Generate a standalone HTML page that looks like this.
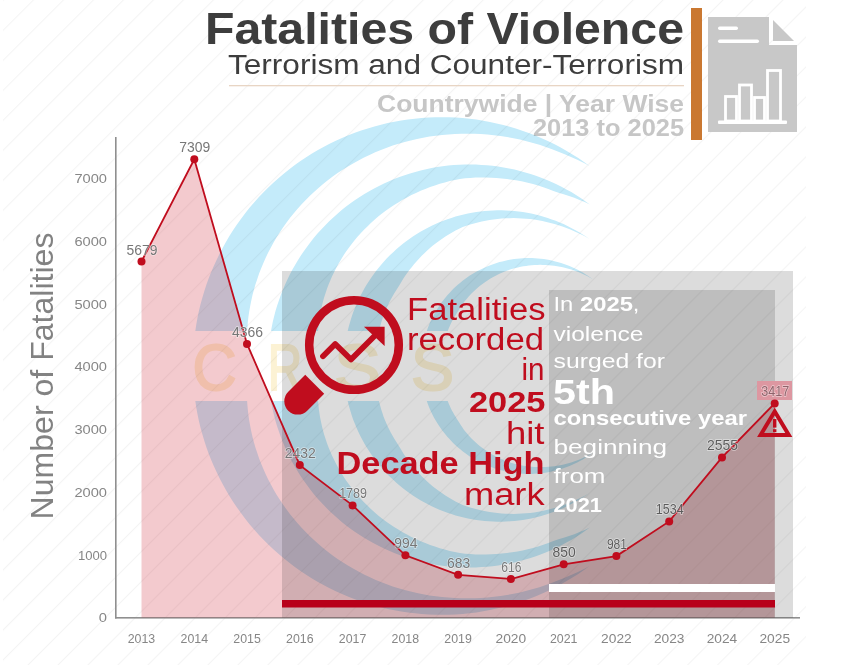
<!DOCTYPE html><html><head><meta charset="utf-8"><style>html,body{margin:0;padding:0;background:#fff;overflow:hidden}svg{display:block}text{font-family:"Liberation Sans",sans-serif}</style></head><body>
<svg width="858" height="665" viewBox="0 0 858 665">
<defs>
<pattern id="diag" patternUnits="userSpaceOnUse" width="21.2" height="21.2" patternTransform="translate(2.7,0) rotate(45)"><rect x="0" y="0" width="1" height="21.2" fill="#000" fill-opacity="0.045"/></pattern>
<clipPath id="cw"><rect x="0" y="0" width="858" height="331"/><rect x="0" y="401" width="858" height="264"/></clipPath>
</defs>
<rect width="858" height="665" fill="#fff"/>
<rect x="3" y="0" width="803" height="665" fill="url(#diag)"/>
<text x="684" y="43.8" font-size="43.5" font-weight="bold" fill="#3d3d3d" text-anchor="end" textLength="479" lengthAdjust="spacingAndGlyphs" >Fatalities of Violence</text>
<text x="684" y="74" font-size="27" font-weight="normal" fill="#3d3d3d" text-anchor="end" textLength="456" lengthAdjust="spacingAndGlyphs" >Terrorism and Counter-Terrorism</text>
<rect x="229" y="85" width="455" height="1.3" fill="#e8d5c4"/>
<text x="684" y="112" font-size="24.5" font-weight="bold" fill="#c6c6c6" text-anchor="end" textLength="307" lengthAdjust="spacingAndGlyphs" >Countrywide | Year Wise</text>
<text x="684" y="135.5" font-size="24.5" font-weight="bold" fill="#c6c6c6" text-anchor="end" textLength="151" lengthAdjust="spacingAndGlyphs" >2013 to 2025</text>
<rect x="691" y="8" width="11" height="132" fill="#ca7831"/>
<path d="M708 17 H769 V45 H797 V132 H708 Z" fill="#c8c8c8"/>
<path d="M773 20 L794 41 H773 Z" fill="#c8c8c8"/>
<rect x="718" y="26.5" width="20" height="3.5" rx="1.7" fill="#fff"/>
<rect x="718" y="39.5" width="41" height="3.5" rx="1.7" fill="#fff"/>
<rect x="718" y="120.5" width="69" height="3.5" rx="1" fill="#fff"/>
<rect x="725.5" y="96.5" width="11" height="24.5" fill="none" stroke="#fff" stroke-width="2.8"/>
<rect x="739.5" y="85.0" width="12" height="36.0" fill="none" stroke="#fff" stroke-width="2.8"/>
<rect x="754.5" y="97.5" width="10" height="23.5" fill="none" stroke="#fff" stroke-width="2.8"/>
<rect x="767.5" y="70.5" width="13" height="50.5" fill="none" stroke="#fff" stroke-width="2.8"/>
<rect x="115" y="137" width="1.6" height="481.5" fill="#8f8f8f"/>
<rect x="115" y="617" width="685" height="1.6" fill="#8f8f8f"/>
<text x="107" y="622.2" font-size="13" font-weight="normal" fill="#868686" text-anchor="end" textLength="8.2" lengthAdjust="spacingAndGlyphs" >0</text>
<text x="107" y="559.5" font-size="13" font-weight="normal" fill="#868686" text-anchor="end" textLength="29.1" lengthAdjust="spacingAndGlyphs" >1000</text>
<text x="107" y="496.80000000000007" font-size="13" font-weight="normal" fill="#868686" text-anchor="end" textLength="32.6" lengthAdjust="spacingAndGlyphs" >2000</text>
<text x="107" y="434.1" font-size="13" font-weight="normal" fill="#868686" text-anchor="end" textLength="32.6" lengthAdjust="spacingAndGlyphs" >3000</text>
<text x="107" y="371.40000000000003" font-size="13" font-weight="normal" fill="#868686" text-anchor="end" textLength="32.6" lengthAdjust="spacingAndGlyphs" >4000</text>
<text x="107" y="308.7" font-size="13" font-weight="normal" fill="#868686" text-anchor="end" textLength="32.6" lengthAdjust="spacingAndGlyphs" >5000</text>
<text x="107" y="245.99999999999997" font-size="13" font-weight="normal" fill="#868686" text-anchor="end" textLength="32.6" lengthAdjust="spacingAndGlyphs" >6000</text>
<text x="107" y="183.29999999999998" font-size="13" font-weight="normal" fill="#868686" text-anchor="end" textLength="32.6" lengthAdjust="spacingAndGlyphs" >7000</text>
<text x="141.5" y="642.7" font-size="13.5" font-weight="normal" fill="#868686" text-anchor="middle" textLength="27.5" lengthAdjust="spacingAndGlyphs" >2013</text>
<text x="194.27" y="642.7" font-size="13.5" font-weight="normal" fill="#868686" text-anchor="middle" textLength="27.5" lengthAdjust="spacingAndGlyphs" >2014</text>
<text x="247.04000000000002" y="642.7" font-size="13.5" font-weight="normal" fill="#868686" text-anchor="middle" textLength="27.5" lengthAdjust="spacingAndGlyphs" >2015</text>
<text x="299.81" y="642.7" font-size="13.5" font-weight="normal" fill="#868686" text-anchor="middle" textLength="27.5" lengthAdjust="spacingAndGlyphs" >2016</text>
<text x="352.58000000000004" y="642.7" font-size="13.5" font-weight="normal" fill="#868686" text-anchor="middle" textLength="27.5" lengthAdjust="spacingAndGlyphs" >2017</text>
<text x="405.35" y="642.7" font-size="13.5" font-weight="normal" fill="#868686" text-anchor="middle" textLength="27.5" lengthAdjust="spacingAndGlyphs" >2018</text>
<text x="458.12" y="642.7" font-size="13.5" font-weight="normal" fill="#868686" text-anchor="middle" textLength="27.5" lengthAdjust="spacingAndGlyphs" >2019</text>
<text x="510.89000000000004" y="642.7" font-size="13.5" font-weight="normal" fill="#868686" text-anchor="middle" textLength="30.6" lengthAdjust="spacingAndGlyphs" >2020</text>
<text x="563.6600000000001" y="642.7" font-size="13.5" font-weight="normal" fill="#868686" text-anchor="middle" textLength="27.5" lengthAdjust="spacingAndGlyphs" >2021</text>
<text x="616.4300000000001" y="642.7" font-size="13.5" font-weight="normal" fill="#868686" text-anchor="middle" textLength="30.6" lengthAdjust="spacingAndGlyphs" >2022</text>
<text x="669.2" y="642.7" font-size="13.5" font-weight="normal" fill="#868686" text-anchor="middle" textLength="30.6" lengthAdjust="spacingAndGlyphs" >2023</text>
<text x="721.97" y="642.7" font-size="13.5" font-weight="normal" fill="#868686" text-anchor="middle" textLength="30.6" lengthAdjust="spacingAndGlyphs" >2024</text>
<text x="774.74" y="642.7" font-size="13.5" font-weight="normal" fill="#868686" text-anchor="middle" textLength="30.6" lengthAdjust="spacingAndGlyphs" >2025</text>
<text transform="translate(52.5,376) rotate(-90)" x="0" y="0" font-size="31" fill="#828282" text-anchor="middle" textLength="287" lengthAdjust="spacingAndGlyphs">Number of Fatalities</text>
<g style="mix-blend-mode:multiply" clip-path="url(#cw)">
<path d="M589.6,166.0 L584.0,162.0 L578.3,158.1 L572.5,154.4 L566.7,150.9 L560.7,147.5 L554.6,144.3 L548.4,141.3 L542.2,138.4 L535.9,135.8 L529.5,133.2 L523.0,130.9 L516.5,128.7 L509.9,126.8 L503.3,125.0 L496.6,123.4 L489.9,121.9 L483.2,120.7 L476.4,119.6 L469.6,118.8 L462.7,118.1 L455.9,117.6 L449.0,117.3 L442.2,117.2 L435.3,117.3 L428.4,117.5 L421.6,118.0 L414.8,118.7 L407.9,119.5 L401.2,120.5 L394.4,121.7 L387.7,123.1 L381.0,124.7 L374.4,126.5 L367.8,128.4 L361.2,130.5 L354.8,132.8 L348.4,135.3 L342.0,138.0 L335.8,140.8 L329.6,143.8 L323.5,147.0 L317.5,150.3 L311.6,153.8 L305.8,157.5 L300.1,161.3 L294.5,165.3 L289.0,169.5 L283.7,173.7 L278.4,178.2 L273.3,182.7 L268.3,187.5 L263.5,192.3 L258.7,197.3 L254.1,202.4 L249.7,207.6 L245.4,213.0 L241.3,218.5 L237.3,224.1 L233.4,229.7 L229.7,235.5 L226.2,241.4 L222.9,247.4 L219.7,253.5 L216.7,259.7 L213.8,265.9 L211.1,272.2 L208.6,278.6 L206.3,285.1 L204.2,291.6 L202.2,298.2 L200.4,304.8 L198.8,311.5 L197.4,318.2 L196.2,325.0 L195.2,331.8 L194.3,338.6 L193.7,345.4 L193.2,352.3 L192.9,359.1 L192.8,366.0 L192.9,372.9 L193.2,379.7 L193.7,386.6 L194.3,393.4 L195.2,400.2 L196.2,407.0 L197.4,413.8 L198.8,420.5 L200.4,427.2 L202.2,433.8 L204.2,440.4 L206.3,446.9 L208.6,453.4 L211.1,459.8 L213.8,466.1 L216.7,472.3 L219.7,478.5 L222.9,484.6 L226.2,490.6 L229.7,496.5 L233.4,502.3 L237.3,507.9 L241.3,513.5 L245.4,519.0 L249.7,524.4 L254.1,529.6 L258.7,534.7 L263.5,539.7 L268.3,544.5 L273.3,549.3 L278.4,553.8 L283.7,558.3 L289.0,562.5 L294.5,566.7 L300.1,570.7 L305.8,574.5 L311.6,578.2 L317.5,581.7 L323.5,585.0 L329.6,588.2 L335.8,591.2 L342.0,594.0 L348.4,596.7 L354.8,599.2 L361.2,601.5 L367.8,603.6 L374.4,605.5 L381.0,607.3 L387.7,608.9 L394.4,610.3 L401.2,611.5 L407.9,612.5 L414.8,613.3 L421.6,614.0 L428.4,614.5 L435.3,614.7 L442.2,614.8 L449.0,614.7 L455.9,614.4 L462.7,613.9 L469.6,613.2 L476.4,612.4 L483.2,611.3 L489.9,610.1 L496.6,608.6 L503.3,607.0 L509.9,605.2 L516.5,603.3 L523.0,601.1 L529.5,598.8 L535.9,596.2 L542.2,593.6 L548.4,590.7 L554.6,587.7 L560.7,584.5 L566.7,581.1 L572.5,577.6 L578.3,573.9 L584.0,570.0 L589.6,566.0 L589.6,566.0 L583.5,569.2 L577.3,572.3 L571.0,575.1 L564.7,577.8 L558.4,580.2 L552.1,582.7 L545.8,585.0 L539.4,587.2 L533.0,589.1 L526.5,590.8 L520.0,592.4 L513.5,593.8 L507.0,595.0 L500.5,596.0 L494.0,596.8 L487.4,597.5 L480.9,597.9 L474.4,598.2 L467.9,598.3 L461.4,598.2 L454.9,598.0 L448.5,597.6 L442.1,597.0 L435.8,596.3 L429.5,595.4 L423.2,594.3 L417.0,593.0 L410.8,591.6 L404.7,590.0 L398.6,588.3 L392.7,586.4 L386.8,584.3 L380.9,582.1 L375.2,579.7 L369.5,577.1 L364.0,574.4 L358.5,571.6 L353.1,568.6 L347.9,565.5 L342.7,562.3 L337.6,558.9 L332.7,555.4 L327.8,551.7 L323.1,547.9 L318.5,544.1 L314.0,540.1 L309.7,536.0 L305.5,531.7 L301.4,527.4 L297.4,523.0 L293.6,518.5 L289.9,513.9 L286.4,509.2 L283.0,504.4 L279.7,499.6 L276.6,494.7 L273.7,489.7 L270.9,484.6 L268.2,479.5 L265.7,474.3 L263.4,469.1 L261.2,463.8 L259.1,458.5 L257.3,453.1 L255.5,447.8 L253.9,442.3 L252.5,436.9 L251.3,431.4 L250.2,426.0 L249.2,420.5 L248.4,415.0 L247.8,409.5 L247.3,404.0 L247.0,398.5 L246.7,393.1 L246.2,387.7 L245.9,382.2 L245.7,376.8 L245.6,371.4 L245.7,366.0 L245.6,360.6 L245.7,355.2 L245.9,349.8 L246.2,344.3 L246.7,338.9 L247.0,333.5 L247.3,328.0 L247.8,322.5 L248.4,317.0 L249.2,311.5 L250.2,306.0 L251.3,300.6 L252.5,295.1 L253.9,289.7 L255.5,284.2 L257.3,278.9 L259.1,273.5 L261.2,268.2 L263.4,262.9 L265.7,257.7 L268.2,252.5 L270.9,247.4 L273.7,242.3 L276.6,237.3 L279.7,232.4 L283.0,227.6 L286.4,222.8 L289.9,218.1 L293.6,213.5 L297.4,209.0 L301.4,204.6 L305.5,200.3 L309.7,196.0 L314.0,191.9 L318.5,187.9 L323.1,184.1 L327.8,180.3 L332.7,176.6 L337.6,173.1 L342.7,169.7 L347.9,166.5 L353.1,163.4 L358.5,160.4 L364.0,157.6 L369.5,154.9 L375.2,152.3 L380.9,149.9 L386.8,147.7 L392.7,145.6 L398.6,143.7 L404.7,142.0 L410.8,140.4 L417.0,139.0 L423.2,137.7 L429.5,136.6 L435.8,135.7 L442.1,135.0 L448.5,134.4 L454.9,134.0 L461.4,133.8 L467.9,133.7 L474.4,133.8 L480.9,134.1 L487.4,134.5 L494.0,135.2 L500.5,136.0 L507.0,137.0 L513.5,138.2 L520.0,139.6 L526.5,141.2 L533.0,142.9 L539.4,144.8 L545.8,147.0 L552.1,149.3 L558.4,151.8 L564.7,154.2 L571.0,156.9 L577.3,159.7 L583.5,162.8 L589.6,166.0Z" fill="#c4ebfa"/>
<path d="M589.8,204.4 L585.3,201.2 L580.7,198.0 L576.0,195.0 L571.3,192.1 L566.4,189.4 L561.5,186.8 L556.5,184.3 L551.5,182.0 L546.3,179.8 L541.2,177.7 L535.9,175.8 L530.6,174.0 L525.3,172.4 L519.9,170.9 L514.5,169.6 L509.1,168.4 L503.6,167.4 L498.1,166.6 L492.6,165.8 L487.0,165.3 L481.5,164.9 L475.9,164.6 L470.4,164.5 L464.8,164.6 L459.2,164.8 L453.7,165.1 L448.1,165.6 L442.6,166.3 L437.1,167.1 L431.6,168.1 L426.1,169.2 L420.7,170.5 L415.3,171.9 L410.0,173.5 L404.7,175.2 L399.4,177.0 L394.2,179.0 L389.1,181.2 L384.0,183.5 L379.0,185.9 L374.1,188.5 L369.2,191.2 L364.4,194.0 L359.7,197.0 L355.1,200.1 L350.5,203.3 L346.1,206.6 L341.7,210.1 L337.5,213.7 L333.3,217.4 L329.2,221.2 L325.3,225.2 L321.5,229.2 L317.7,233.3 L314.1,237.6 L310.6,241.9 L307.3,246.4 L304.0,250.9 L300.9,255.5 L297.9,260.2 L295.1,265.0 L292.3,269.8 L289.7,274.8 L287.3,279.8 L285.0,284.8 L282.8,290.0 L280.8,295.1 L278.9,300.4 L277.1,305.7 L275.5,311.0 L274.1,316.4 L272.8,321.8 L271.7,327.3 L270.7,332.7 L269.8,338.2 L269.1,343.8 L268.6,349.3 L268.2,354.9 L268.0,360.4 L267.9,366.0 L268.0,371.6 L268.2,377.1 L268.6,382.7 L269.1,388.2 L269.8,393.8 L270.7,399.3 L271.7,404.7 L272.8,410.2 L274.1,415.6 L275.5,421.0 L277.1,426.3 L278.9,431.6 L280.8,436.9 L282.8,442.0 L285.0,447.2 L287.3,452.2 L289.7,457.2 L292.3,462.2 L295.1,467.0 L297.9,471.8 L300.9,476.5 L304.0,481.1 L307.3,485.6 L310.6,490.1 L314.1,494.4 L317.7,498.7 L321.5,502.8 L325.3,506.8 L329.2,510.8 L333.3,514.6 L337.5,518.3 L341.7,521.9 L346.1,525.4 L350.5,528.7 L355.1,531.9 L359.7,535.0 L364.4,538.0 L369.2,540.8 L374.1,543.5 L379.0,546.1 L384.0,548.5 L389.1,550.8 L394.2,553.0 L399.4,555.0 L404.7,556.8 L410.0,558.5 L415.3,560.1 L420.7,561.5 L426.1,562.8 L431.6,563.9 L437.1,564.9 L442.6,565.7 L448.1,566.4 L453.7,566.9 L459.2,567.2 L464.8,567.4 L470.4,567.5 L475.9,567.4 L481.5,567.1 L487.0,566.7 L492.6,566.2 L498.1,565.4 L503.6,564.6 L509.1,563.6 L514.5,562.4 L519.9,561.1 L525.3,559.6 L530.6,558.0 L535.9,556.2 L541.2,554.3 L546.3,552.2 L551.5,550.0 L556.5,547.7 L561.5,545.2 L566.4,542.6 L571.3,539.9 L576.0,537.0 L580.7,534.0 L585.3,530.8 L589.8,527.6 L589.8,527.6 L584.7,529.9 L579.5,532.1 L574.3,534.2 L569.0,536.0 L563.7,537.7 L558.5,539.3 L553.4,541.1 L548.3,543.0 L543.3,544.8 L538.2,546.4 L533.0,547.9 L527.8,549.2 L522.7,550.4 L517.4,551.4 L512.2,552.3 L507.0,553.0 L501.7,553.6 L496.5,554.0 L491.2,554.3 L486.0,554.5 L480.7,554.5 L475.5,554.4 L470.3,554.1 L465.1,553.7 L459.9,553.1 L454.8,552.1 L449.8,550.9 L444.8,549.6 L439.8,548.2 L434.9,546.6 L430.1,544.9 L425.3,543.1 L420.6,541.2 L416.0,539.1 L411.4,536.9 L407.0,534.6 L402.6,532.2 L398.3,529.6 L394.1,527.0 L390.0,524.2 L386.0,521.4 L382.0,518.4 L378.2,515.4 L374.5,512.2 L370.9,509.0 L367.4,505.6 L364.0,502.2 L360.7,498.7 L357.5,495.2 L354.4,491.5 L351.5,487.8 L348.7,484.0 L345.9,480.2 L343.3,476.3 L340.9,472.3 L338.5,468.3 L336.3,464.2 L334.2,460.1 L332.2,456.0 L330.4,451.8 L328.6,447.6 L327.0,443.3 L325.6,439.0 L324.2,434.7 L323.0,430.4 L321.9,426.1 L321.0,421.8 L320.1,417.4 L319.4,413.1 L318.8,408.7 L318.4,404.4 L318.0,400.0 L317.8,395.7 L317.6,391.4 L317.2,387.2 L316.9,382.9 L316.7,378.7 L316.6,374.5 L316.7,370.2 L316.9,366.0 L316.7,361.8 L316.6,357.5 L316.7,353.3 L316.9,349.1 L317.2,344.8 L317.6,340.6 L317.8,336.3 L318.0,332.0 L318.4,327.6 L318.8,323.3 L319.4,318.9 L320.1,314.6 L321.0,310.2 L321.9,305.9 L323.0,301.6 L324.2,297.3 L325.6,293.0 L327.0,288.7 L328.6,284.4 L330.4,280.2 L332.2,276.0 L334.2,271.9 L336.3,267.8 L338.5,263.7 L340.9,259.7 L343.3,255.7 L345.9,251.8 L348.7,248.0 L351.5,244.2 L354.4,240.5 L357.5,236.8 L360.7,233.3 L364.0,229.8 L367.4,226.4 L370.9,223.0 L374.5,219.8 L378.2,216.6 L382.0,213.6 L386.0,210.6 L390.0,207.8 L394.1,205.0 L398.3,202.4 L402.6,199.8 L407.0,197.4 L411.4,195.1 L416.0,192.9 L420.6,190.8 L425.3,188.9 L430.1,187.1 L434.9,185.4 L439.8,183.8 L444.8,182.4 L449.8,181.1 L454.8,179.9 L459.9,178.9 L465.1,178.3 L470.3,177.9 L475.5,177.6 L480.7,177.5 L486.0,177.5 L491.2,177.7 L496.5,178.0 L501.7,178.4 L507.0,179.0 L512.2,179.7 L517.4,180.6 L522.7,181.6 L527.8,182.8 L533.0,184.1 L538.2,185.6 L543.3,187.2 L548.3,189.0 L553.4,190.9 L558.5,192.7 L563.7,194.3 L569.0,196.0 L574.3,197.8 L579.5,199.9 L584.7,202.1 L589.8,204.4Z" fill="#c4ebfa"/>
<path d="M589.4,238.9 L585.9,236.5 L582.3,234.2 L578.7,232.0 L575.0,229.9 L571.2,227.9 L567.4,225.9 L563.6,224.1 L559.7,222.4 L555.7,220.8 L551.7,219.4 L547.7,218.0 L543.6,216.7 L539.5,215.6 L535.4,214.5 L531.3,213.6 L527.1,212.8 L522.9,212.1 L518.7,211.5 L514.4,211.0 L510.2,210.7 L505.9,210.4 L501.7,210.3 L497.4,210.3 L493.2,210.4 L488.9,210.7 L484.7,211.0 L480.5,211.5 L476.2,212.0 L472.0,212.7 L467.9,213.5 L463.7,214.4 L459.6,215.5 L455.5,216.6 L451.4,217.9 L447.4,219.2 L443.4,220.7 L439.4,222.3 L435.5,224.0 L431.7,225.8 L427.9,227.7 L424.1,229.7 L420.4,231.8 L416.8,234.0 L413.2,236.3 L409.7,238.7 L406.2,241.2 L402.9,243.8 L399.6,246.5 L396.3,249.3 L393.2,252.2 L390.1,255.1 L387.1,258.1 L384.2,261.2 L381.4,264.4 L378.7,267.7 L376.0,271.0 L373.5,274.4 L371.0,277.9 L368.7,281.4 L366.4,285.1 L364.2,288.7 L362.2,292.4 L360.2,296.2 L358.4,300.1 L356.6,303.9 L355.0,307.9 L353.4,311.8 L352.0,315.8 L350.7,319.9 L349.5,324.0 L348.4,328.1 L347.4,332.2 L346.5,336.4 L345.8,340.6 L345.2,344.8 L344.6,349.0 L344.2,353.2 L343.9,357.5 L343.8,361.7 L343.7,366.0 L343.8,370.3 L343.9,374.5 L344.2,378.8 L344.6,383.0 L345.2,387.2 L345.8,391.4 L346.5,395.6 L347.4,399.8 L348.4,403.9 L349.5,408.0 L350.7,412.1 L352.0,416.2 L353.4,420.2 L355.0,424.1 L356.6,428.1 L358.4,431.9 L360.2,435.8 L362.2,439.6 L364.2,443.3 L366.4,446.9 L368.7,450.6 L371.0,454.1 L373.5,457.6 L376.0,461.0 L378.7,464.3 L381.4,467.6 L384.2,470.8 L387.1,473.9 L390.1,476.9 L393.2,479.8 L396.3,482.7 L399.6,485.5 L402.9,488.2 L406.2,490.8 L409.7,493.3 L413.2,495.7 L416.8,498.0 L420.4,500.2 L424.1,502.3 L427.9,504.3 L431.7,506.2 L435.5,508.0 L439.4,509.7 L443.4,511.3 L447.4,512.8 L451.4,514.1 L455.5,515.4 L459.6,516.5 L463.7,517.6 L467.9,518.5 L472.0,519.3 L476.2,520.0 L480.5,520.5 L484.7,521.0 L488.9,521.3 L493.2,521.6 L497.4,521.7 L501.7,521.7 L505.9,521.6 L510.2,521.3 L514.4,521.0 L518.7,520.5 L522.9,519.9 L527.1,519.2 L531.3,518.4 L535.4,517.5 L539.5,516.4 L543.6,515.3 L547.7,514.0 L551.7,512.6 L555.7,511.2 L559.7,509.6 L563.6,507.9 L567.4,506.1 L571.2,504.1 L575.0,502.1 L578.7,500.0 L582.3,497.8 L585.9,495.5 L589.4,493.1 L589.4,493.1 L585.7,495.2 L581.9,497.2 L578.1,499.0 L574.2,500.8 L570.4,502.5 L566.4,504.0 L562.5,505.5 L558.5,506.8 L554.5,508.0 L550.5,509.1 L546.4,510.1 L542.4,511.0 L538.3,511.7 L534.2,512.4 L530.1,512.9 L526.0,513.3 L521.9,513.6 L517.8,513.8 L513.7,513.9 L509.7,513.8 L505.6,513.7 L501.6,513.4 L497.5,513.0 L493.5,512.6 L489.6,512.0 L485.6,511.3 L481.7,510.5 L477.8,509.6 L474.0,508.5 L470.1,507.4 L466.4,506.2 L462.7,504.9 L459.1,503.2 L455.5,501.4 L452.1,499.5 L448.7,497.5 L445.4,495.4 L442.2,493.3 L439.0,491.0 L435.9,488.7 L432.9,486.4 L430.0,483.9 L427.2,481.4 L424.4,478.8 L421.7,476.2 L419.2,473.4 L416.7,470.7 L414.2,467.9 L411.9,465.1 L409.6,462.2 L407.4,459.3 L405.4,456.4 L403.4,453.4 L401.5,450.3 L399.7,447.2 L397.8,444.2 L395.9,441.3 L394.0,438.3 L392.3,435.3 L390.6,432.2 L389.0,429.1 L387.5,426.0 L386.1,422.8 L384.7,419.6 L383.5,416.4 L382.4,413.1 L381.3,409.8 L380.4,406.5 L379.5,403.2 L378.7,399.8 L378.0,396.5 L377.4,393.1 L376.7,389.8 L376.2,386.4 L375.7,383.0 L375.3,379.6 L375.0,376.2 L374.8,372.8 L374.7,369.4 L374.7,366.0 L374.7,362.6 L374.8,359.2 L375.0,355.8 L375.3,352.4 L375.7,349.0 L376.2,345.6 L376.7,342.2 L377.4,338.9 L378.0,335.5 L378.7,332.2 L379.5,328.8 L380.4,325.5 L381.3,322.2 L382.4,318.9 L383.5,315.6 L384.7,312.4 L386.1,309.2 L387.5,306.0 L389.0,302.9 L390.6,299.8 L392.3,296.7 L394.0,293.7 L395.9,290.7 L397.8,287.8 L399.7,284.8 L401.5,281.7 L403.4,278.6 L405.4,275.6 L407.4,272.7 L409.6,269.8 L411.9,266.9 L414.2,264.1 L416.7,261.3 L419.2,258.6 L421.7,255.8 L424.4,253.2 L427.2,250.6 L430.0,248.1 L432.9,245.6 L435.9,243.3 L439.0,241.0 L442.2,238.7 L445.4,236.6 L448.7,234.5 L452.1,232.5 L455.5,230.6 L459.1,228.8 L462.7,227.1 L466.4,225.8 L470.1,224.6 L474.0,223.5 L477.8,222.4 L481.7,221.5 L485.6,220.7 L489.6,220.0 L493.5,219.4 L497.5,219.0 L501.6,218.6 L505.6,218.3 L509.7,218.2 L513.7,218.1 L517.8,218.2 L521.9,218.4 L526.0,218.7 L530.1,219.1 L534.2,219.6 L538.3,220.3 L542.4,221.0 L546.4,221.9 L550.5,222.9 L554.5,224.0 L558.5,225.2 L562.5,226.5 L566.4,228.0 L570.4,229.5 L574.2,231.2 L578.1,233.0 L581.9,234.8 L585.7,236.8 L589.4,238.9Z" fill="#c4ebfa"/>
<path d="M592.8,279.2 L590.4,277.4 L587.9,275.8 L585.4,274.2 L582.9,272.6 L580.3,271.2 L577.7,269.8 L575.0,268.5 L572.3,267.2 L569.5,266.1 L566.8,265.0 L564.0,264.0 L561.1,263.1 L558.3,262.2 L555.4,261.4 L552.5,260.7 L549.6,260.1 L546.7,259.6 L543.7,259.1 L540.8,258.8 L537.8,258.5 L534.9,258.3 L531.9,258.1 L528.9,258.1 L525.9,258.1 L523.0,258.3 L520.0,258.5 L517.0,258.7 L514.1,259.1 L511.1,259.6 L508.2,260.1 L505.3,260.7 L502.4,261.4 L499.5,262.1 L496.7,263.0 L493.8,263.9 L491.0,264.9 L488.3,266.0 L485.5,267.2 L482.8,268.4 L480.2,269.7 L477.5,271.1 L474.9,272.5 L472.4,274.0 L469.8,275.6 L467.4,277.3 L465.0,279.0 L462.6,280.8 L460.3,282.7 L458.0,284.6 L455.8,286.6 L453.6,288.6 L451.5,290.7 L449.5,292.9 L447.5,295.1 L445.5,297.4 L443.7,299.7 L441.9,302.1 L440.2,304.5 L438.5,306.9 L436.9,309.5 L435.4,312.0 L433.9,314.6 L432.5,317.2 L431.2,319.9 L430.0,322.6 L428.8,325.4 L427.8,328.1 L426.8,330.9 L425.8,333.8 L425.0,336.6 L424.2,339.5 L423.5,342.4 L422.9,345.3 L422.4,348.2 L421.9,351.2 L421.6,354.1 L421.3,357.1 L421.1,360.1 L420.9,363.0 L420.9,366.0 L420.9,369.0 L421.1,371.9 L421.3,374.9 L421.6,377.9 L421.9,380.8 L422.4,383.8 L422.9,386.7 L423.5,389.6 L424.2,392.5 L425.0,395.4 L425.8,398.2 L426.8,401.1 L427.8,403.9 L428.8,406.6 L430.0,409.4 L431.2,412.1 L432.5,414.8 L433.9,417.4 L435.4,420.0 L436.9,422.5 L438.5,425.1 L440.2,427.5 L441.9,429.9 L443.7,432.3 L445.5,434.6 L447.5,436.9 L449.5,439.1 L451.5,441.3 L453.6,443.4 L455.8,445.4 L458.0,447.4 L460.3,449.3 L462.6,451.2 L465.0,453.0 L467.4,454.7 L469.8,456.4 L472.4,458.0 L474.9,459.5 L477.5,460.9 L480.2,462.3 L482.8,463.6 L485.5,464.8 L488.3,466.0 L491.0,467.1 L493.8,468.1 L496.7,469.0 L499.5,469.9 L502.4,470.6 L505.3,471.3 L508.2,471.9 L511.1,472.4 L514.1,472.9 L517.0,473.3 L520.0,473.5 L523.0,473.7 L525.9,473.9 L528.9,473.9 L531.9,473.9 L534.9,473.7 L537.8,473.5 L540.8,473.2 L543.7,472.9 L546.7,472.4 L549.6,471.9 L552.5,471.3 L555.4,470.6 L558.3,469.8 L561.1,468.9 L564.0,468.0 L566.8,467.0 L569.5,465.9 L572.3,464.8 L575.0,463.5 L577.7,462.2 L580.3,460.8 L582.9,459.4 L585.4,457.8 L587.9,456.2 L590.4,454.6 L592.8,452.8 L592.8,452.8 L590.2,454.3 L587.6,455.7 L584.9,457.0 L582.2,458.3 L579.5,459.4 L576.8,460.5 L574.0,461.5 L571.2,462.4 L568.4,463.2 L565.6,464.0 L562.8,464.7 L560.0,465.3 L557.1,465.8 L554.3,466.2 L551.5,466.6 L548.6,466.8 L545.8,467.0 L542.9,467.1 L540.1,467.2 L537.3,467.1 L534.5,467.0 L531.7,466.8 L528.9,466.5 L526.1,466.1 L523.4,465.7 L520.7,465.2 L518.0,464.6 L515.3,463.9 L512.7,463.2 L510.1,462.4 L507.5,461.5 L504.9,460.5 L502.4,459.5 L500.0,458.4 L497.5,457.3 L495.2,456.1 L492.8,454.8 L490.5,453.5 L488.3,452.1 L486.0,450.6 L483.9,449.1 L481.8,447.6 L479.7,446.0 L477.7,444.3 L475.8,442.6 L473.9,440.8 L472.0,439.0 L470.3,437.2 L468.5,435.3 L466.9,433.3 L465.3,431.4 L463.7,429.4 L462.3,427.3 L460.9,425.2 L459.5,423.1 L458.2,421.0 L456.9,418.9 L455.6,416.8 L454.3,414.7 L453.1,412.6 L451.9,410.4 L450.8,408.2 L449.8,406.0 L448.8,403.8 L447.9,401.5 L447.1,399.2 L446.3,396.9 L445.6,394.6 L445.0,392.2 L444.6,389.8 L444.3,387.4 L444.1,385.0 L443.9,382.6 L443.8,380.2 L443.8,377.8 L443.9,375.4 L444.0,373.0 L444.2,370.7 L444.4,368.3 L444.8,366.0 L444.4,363.7 L444.2,361.3 L444.0,359.0 L443.9,356.6 L443.8,354.2 L443.8,351.8 L443.9,349.4 L444.1,347.0 L444.3,344.6 L444.6,342.2 L445.0,339.8 L445.6,337.4 L446.3,335.1 L447.1,332.8 L447.9,330.5 L448.8,328.2 L449.8,326.0 L450.8,323.8 L451.9,321.6 L453.1,319.4 L454.3,317.3 L455.6,315.2 L456.9,313.1 L458.2,311.0 L459.5,308.9 L460.9,306.8 L462.3,304.7 L463.7,302.6 L465.3,300.6 L466.9,298.7 L468.5,296.7 L470.3,294.8 L472.0,293.0 L473.9,291.2 L475.8,289.4 L477.7,287.7 L479.7,286.0 L481.8,284.4 L483.9,282.9 L486.0,281.4 L488.3,279.9 L490.5,278.5 L492.8,277.2 L495.2,275.9 L497.5,274.7 L500.0,273.6 L502.4,272.5 L504.9,271.5 L507.5,270.5 L510.1,269.6 L512.7,268.8 L515.3,268.1 L518.0,267.4 L520.7,266.8 L523.4,266.3 L526.1,265.9 L528.9,265.5 L531.7,265.2 L534.5,265.0 L537.3,264.9 L540.1,264.8 L542.9,264.9 L545.8,265.0 L548.6,265.2 L551.5,265.4 L554.3,265.8 L557.1,266.2 L560.0,266.7 L562.8,267.3 L565.6,268.0 L568.4,268.8 L571.2,269.6 L574.0,270.5 L576.8,271.5 L579.5,272.6 L582.2,273.7 L584.9,275.0 L587.6,276.3 L590.2,277.7 L592.8,279.2Z" fill="#c4ebfa"/>
</g>
<polygon points="141.5,617.6 141.5,261.5 194.3,159.3 247.0,343.9 299.8,465.1 352.6,505.4 405.4,555.3 458.1,574.8 510.9,579.0 563.7,564.3 616.4,556.1 669.2,521.4 722.0,457.4 774.7,403.4 774.7,617.6" fill="#cd192d" fill-opacity="0.23"/>
<rect x="282" y="271" width="511" height="346.6" fill="#dcdcdc" style="mix-blend-mode:multiply"/>
<rect x="549" y="290" width="226" height="327.6" fill="#dcdcdc" style="mix-blend-mode:multiply"/>
<g style="mix-blend-mode:multiply">
<text x="192.5" y="389.5" font-size="64" font-weight="normal" fill="#fcf2d4" text-anchor="start" textLength="44" lengthAdjust="spacingAndGlyphs" stroke="#fcf2d4" stroke-width="2">C</text>
<text x="267.8" y="389.5" font-size="64" font-weight="normal" fill="#fcf2d4" text-anchor="start" textLength="34.5" lengthAdjust="spacingAndGlyphs" stroke="#fcf2d4" stroke-width="2">R</text>
<text x="334.2" y="389.5" font-size="64" font-weight="normal" fill="#fcf2d4" text-anchor="start" textLength="46.5" lengthAdjust="spacingAndGlyphs" stroke="#fcf2d4" stroke-width="2">S</text>
<text x="411" y="389.5" font-size="64" font-weight="normal" fill="#fcf2d4" text-anchor="start" textLength="43" lengthAdjust="spacingAndGlyphs" stroke="#fcf2d4" stroke-width="2">S</text>
</g>
<rect x="282" y="600" width="493" height="7.5" fill="#b8001a"/>
<rect x="549" y="584" width="226" height="8" fill="#fff"/>
<rect x="757" y="381" width="35" height="19" fill="#dd97a1"/>
<polyline points="141.5,261.5 194.3,159.3 247.0,343.9 299.8,465.1 352.6,505.4 405.4,555.3 458.1,574.8 510.9,579.0 563.7,564.3 616.4,556.1 669.2,521.4 722.0,457.4 774.7,403.4" fill="none" stroke="#c00d1e" stroke-width="1.8"/>
<circle cx="141.5" cy="261.5" r="4" fill="#c00d1e"/>
<circle cx="194.3" cy="159.3" r="4" fill="#c00d1e"/>
<circle cx="247.0" cy="343.9" r="4" fill="#c00d1e"/>
<circle cx="299.8" cy="465.1" r="4" fill="#c00d1e"/>
<circle cx="352.6" cy="505.4" r="4" fill="#c00d1e"/>
<circle cx="405.4" cy="555.3" r="4" fill="#c00d1e"/>
<circle cx="458.1" cy="574.8" r="4" fill="#c00d1e"/>
<circle cx="510.9" cy="579.0" r="4" fill="#c00d1e"/>
<circle cx="563.7" cy="564.3" r="4" fill="#c00d1e"/>
<circle cx="616.4" cy="556.1" r="4" fill="#c00d1e"/>
<circle cx="669.2" cy="521.4" r="4" fill="#c00d1e"/>
<circle cx="722.0" cy="457.4" r="4" fill="#c00d1e"/>
<circle cx="774.7" cy="403.4" r="4" fill="#c00d1e"/>
<text x="142.0" y="254.5267" font-size="15" font-weight="normal" fill="#777777" text-anchor="middle" textLength="31.0" lengthAdjust="spacingAndGlyphs" stroke="#fff" stroke-opacity="0.5" stroke-width="1.5" paint-order="stroke">5679</text>
<text x="194.77" y="152.32569999999998" font-size="15" font-weight="normal" fill="#777777" text-anchor="middle" textLength="31.0" lengthAdjust="spacingAndGlyphs" stroke="#fff" stroke-opacity="0.5" stroke-width="1.5" paint-order="stroke">7309</text>
<text x="247.54000000000002" y="336.8518" font-size="15" font-weight="normal" fill="#777777" text-anchor="middle" textLength="31.0" lengthAdjust="spacingAndGlyphs" stroke="#fff" stroke-opacity="0.5" stroke-width="1.5" paint-order="stroke">4366</text>
<text x="300.31" y="458.1136" font-size="15" font-weight="normal" fill="#777777" text-anchor="middle" textLength="31.0" lengthAdjust="spacingAndGlyphs" stroke="#fff" stroke-opacity="0.5" stroke-width="1.5" paint-order="stroke">2432</text>
<text x="353.08000000000004" y="498.4297" font-size="15" font-weight="normal" fill="#777777" text-anchor="middle" textLength="27.9" lengthAdjust="spacingAndGlyphs" stroke="#fff" stroke-opacity="0.5" stroke-width="1.5" paint-order="stroke">1789</text>
<text x="405.85" y="548.2762" font-size="15" font-weight="normal" fill="#777777" text-anchor="middle" textLength="23.2" lengthAdjust="spacingAndGlyphs" stroke="#fff" stroke-opacity="0.5" stroke-width="1.5" paint-order="stroke">994</text>
<text x="458.62" y="567.7759" font-size="15" font-weight="normal" fill="#777777" text-anchor="middle" textLength="23.2" lengthAdjust="spacingAndGlyphs" stroke="#fff" stroke-opacity="0.5" stroke-width="1.5" paint-order="stroke">683</text>
<text x="511.39000000000004" y="571.9768" font-size="15" font-weight="normal" fill="#777777" text-anchor="middle" textLength="20.1" lengthAdjust="spacingAndGlyphs" stroke="#fff" stroke-opacity="0.5" stroke-width="1.5" paint-order="stroke">616</text>
<text x="564.1600000000001" y="557.3050000000001" font-size="15" font-weight="normal" fill="#5c5c5c" text-anchor="middle" textLength="23.2" lengthAdjust="spacingAndGlyphs" stroke="#fff" stroke-opacity="0.5" stroke-width="1.5" paint-order="stroke">850</text>
<text x="616.9300000000001" y="549.0913" font-size="15" font-weight="normal" fill="#5c5c5c" text-anchor="middle" textLength="20.1" lengthAdjust="spacingAndGlyphs" stroke="#fff" stroke-opacity="0.5" stroke-width="1.5" paint-order="stroke">981</text>
<text x="669.7" y="514.4182000000001" font-size="15" font-weight="normal" fill="#5c5c5c" text-anchor="middle" textLength="27.9" lengthAdjust="spacingAndGlyphs" stroke="#fff" stroke-opacity="0.5" stroke-width="1.5" paint-order="stroke">1534</text>
<text x="722.47" y="450.4015" font-size="15" font-weight="normal" fill="#5c5c5c" text-anchor="middle" textLength="31.0" lengthAdjust="spacingAndGlyphs" stroke="#fff" stroke-opacity="0.5" stroke-width="1.5" paint-order="stroke">2555</text>
<text x="775.24" y="396.3541" font-size="15" font-weight="normal" fill="#8f636b" text-anchor="middle" textLength="27.9" lengthAdjust="spacingAndGlyphs" stroke="#fff" stroke-opacity="0.5" stroke-width="1.5" paint-order="stroke">3417</text>
<path d="M774.7 411.5 L760.6 435 H788.8 Z" fill="none" stroke="#c00d1e" stroke-width="4" stroke-linejoin="miter"/>
<rect x="773" y="419" width="3.4" height="8.6" fill="#c00d1e"/><rect x="773" y="429.2" width="3.4" height="3" fill="#c00d1e"/>
<text x="545.5" y="319.5" font-size="31" font-weight="normal" fill="#c00d1e" text-anchor="end" textLength="138.5" lengthAdjust="spacingAndGlyphs" >Fatalities</text>
<text x="544" y="350" font-size="31" font-weight="normal" fill="#c00d1e" text-anchor="end" textLength="137" lengthAdjust="spacingAndGlyphs" >recorded</text>
<text x="544.5" y="380.3" font-size="31" font-weight="normal" fill="#c00d1e" text-anchor="end" textLength="23" lengthAdjust="spacingAndGlyphs" >in</text>
<text x="545.5" y="411.8" font-size="30" font-weight="bold" fill="#c00d1e" text-anchor="end" textLength="76.5" lengthAdjust="spacingAndGlyphs" >2025</text>
<text x="544.5" y="443.8" font-size="31" font-weight="normal" fill="#c00d1e" text-anchor="end" textLength="38.5" lengthAdjust="spacingAndGlyphs" >hit</text>
<text x="544.5" y="474" font-size="30.5" font-weight="bold" fill="#c00d1e" text-anchor="end" textLength="208" lengthAdjust="spacingAndGlyphs" >Decade High</text>
<text x="544.5" y="505.4" font-size="31" font-weight="normal" fill="#c00d1e" text-anchor="end" textLength="80.5" lengthAdjust="spacingAndGlyphs" >mark</text>
<circle cx="354" cy="345" r="44.8" fill="none" stroke="#c00d1e" stroke-width="8.5"/>
<g transform="translate(314.7,384.2) rotate(45)"><path d="M-13.4 0 H13.4 V24 A13.4 13.4 0 0 1 -13.4 24 Z" fill="#c00d1e"/></g>
<polyline points="323,356.2 335.2,344 351,359.5 374,336.5" fill="none" stroke="#c00d1e" stroke-width="5.8" stroke-linecap="round" stroke-linejoin="round"/>
<path d="M364 326.7 H384.6 V346 Z" fill="#c00d1e"/>
<text x="553.5" y="311.3" font-size="20.8" fill="#fff" textLength="86" lengthAdjust="spacingAndGlyphs">In <tspan font-weight="bold">2025</tspan>,</text>
<text x="553.5" y="340.6" font-size="20.8" font-weight="normal" fill="#fff" text-anchor="start" textLength="90" lengthAdjust="spacingAndGlyphs" >violence</text>
<text x="553.5" y="367.7" font-size="20.8" font-weight="normal" fill="#fff" text-anchor="start" textLength="111.5" lengthAdjust="spacingAndGlyphs" >surged for</text>
<text x="553" y="403.8" font-size="34.6" font-weight="bold" fill="#fff" text-anchor="start" textLength="62" lengthAdjust="spacingAndGlyphs" >5th</text>
<text x="553.5" y="425" font-size="20.8" font-weight="bold" fill="#fff" text-anchor="start" textLength="193.5" lengthAdjust="spacingAndGlyphs" >consecutive year</text>
<text x="553.5" y="454" font-size="20.8" font-weight="normal" fill="#fff" text-anchor="start" textLength="113.5" lengthAdjust="spacingAndGlyphs" >beginning</text>
<text x="553.5" y="482.8" font-size="20.8" font-weight="normal" fill="#fff" text-anchor="start" textLength="52" lengthAdjust="spacingAndGlyphs" >from</text>
<text x="553.5" y="511.6" font-size="20.8" font-weight="bold" fill="#fff" text-anchor="start" textLength="48.4" lengthAdjust="spacingAndGlyphs" >2021</text>
</svg></body></html>
